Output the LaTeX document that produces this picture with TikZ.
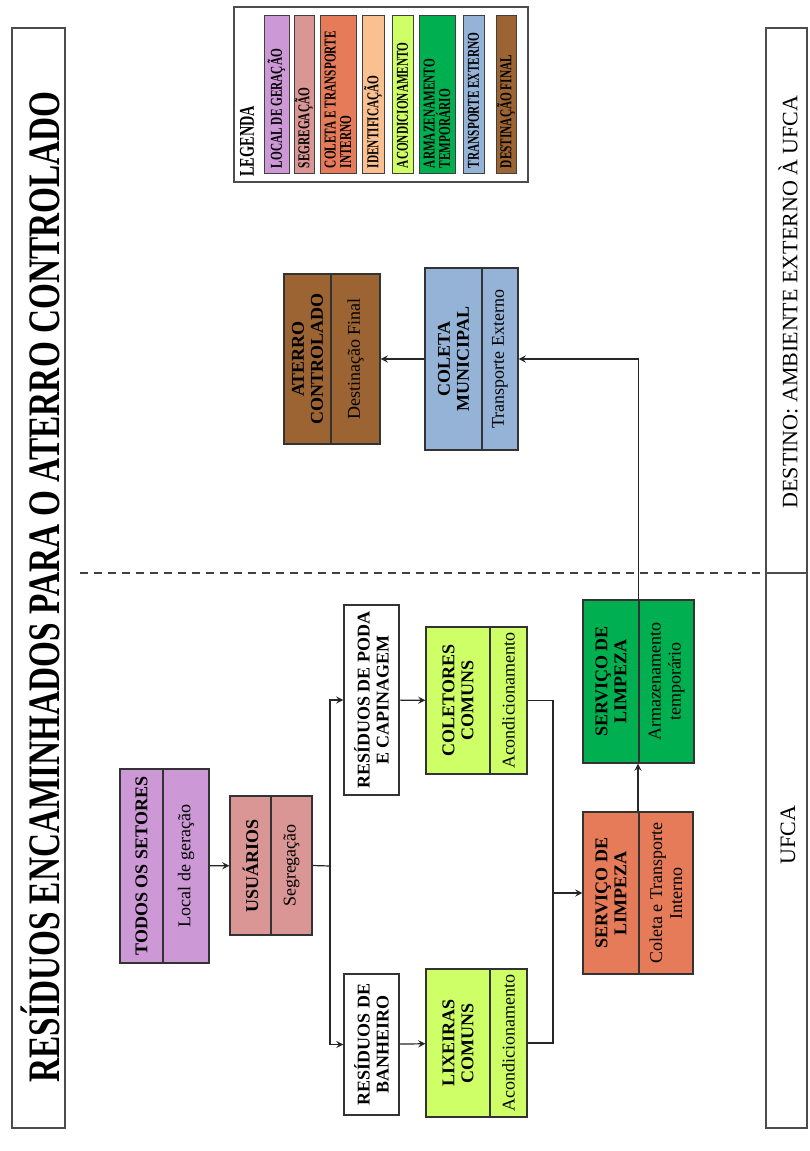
\documentclass[tikz,border=0pt]{standalone}
\usepackage{fontspec}
\setmainfont{Liberation Serif}
\newfontfamily\condfont[FakeStretch=0.68]{Liberation Serif}
\newfontfamily\headfont[FakeStretch=0.74]{Liberation Serif}
\usetikzlibrary{calc,fit}

\definecolor{lilac}{RGB}{204,153,214}
\definecolor{rose}{RGB}{217,150,148}
\definecolor{coral}{RGB}{229,123,89}
\definecolor{peach}{RGB}{250,192,144}
\definecolor{lime}{RGB}{206,255,102}
\definecolor{leaf}{RGB}{0,176,80}
\definecolor{skyblue}{RGB}{149,179,215}
\definecolor{earth}{RGB}{155,100,50}

\begin{document}
\begin{tikzpicture}[x=0.5pt, y=-0.5pt, >=stealth,
    every node/.style={inner sep=0pt},
    stage/.style={draw=black!80, line width=0.6pt, inner sep=0pt},
    divider/.style={draw=black!80, line width=0.6pt},
    boxtitle/.style={rotate=90, align=center, font=\bfseries\fontsize{9}{9.5}\selectfont},
    boxtask/.style={rotate=90, align=center, font=\fontsize{9}{10}\selectfont},
    legbar/.style={draw=black!75, line width=0.5pt, inner sep=0pt},
    legtext/.style={rotate=90, anchor=west, align=left, font=\condfont\bfseries\fontsize{8.3}{7.8}\selectfont},
    framebox/.style={draw=black!70, line width=0.8pt, inner sep=0pt},
    flow/.style={draw=black!85, line width=0.6pt}]

\useasboundingbox (0,0) rectangle (809,1151);

% outer frames
\node[framebox, fit={(12,28) (65,1128)}] (headframe) {};
\node[rotate=90, font=\headfont\bfseries\fontsize{22.5}{24}\selectfont] (head) at (40,587) {RESÍDUOS ENCAMINHADOS PARA O ATERRO CONTROLADO};
\node[framebox, fit={(766,28) (807,1128)}] (footframe) {};
\draw[framebox] (766,573) -- (807,573);
\node[rotate=90, font=\fontsize{11}{12}\selectfont] (outside) at (788,302) {DESTINO: AMBIENTE EXTERNO À UFCA};
\node[rotate=90, font=\fontsize{11}{12}\selectfont] (inside) at (788,835) {UFCA};
\coordinate (cut) at (80,573);
\draw[draw=black!75, line width=0.7pt, dash pattern=on 4pt off 3pt] (cut) -- (cut -| footframe.west);

% legend
\node[framebox, line width=0.6pt, fit={(234,7) (528,182)}] (legend) {};
\node[legtext, font=\condfont\bfseries\fontsize{10.5}{11}\selectfont] (legtitle) at (247,177) {LEGENDA};
\foreach \xa/\xb/\col/\txt [count=\i] in {
    264/289/lilac/{LOCAL DE GERAÇÃO},
    294/314/rose/{SEGREGAÇÃO},
    320/356/coral/{COLETA E TRANSPORTE\\INTERNO},
    362/384/peach/{IDENTIFICAÇÃO},
    392/413/lime/{ACONDICIONAMENTO},
    419/455/leaf/{ARMAZENAMENTO\\TEMPORÁRIO},
    463/484/skyblue/{TRANSPORTE EXTERNO},
    496/516/earth/{DESTINAÇÃO FINAL}}{
  \node[legbar, fill=\col, fit={(\xa,15) (\xb,173)}] (leg\i) {};
  \node[legtext] (legtxt\i) at ($(leg\i.south)+(0,-5)$) {\txt};
}

% stages inside UFCA
\node[stage, fill=lilac, fit={(120,769) (209,963)}] (todos) {};
\draw[divider] (163,769) -- (163,963);
\node[boxtitle] (todosT) at (141.5,866) {TODOS OS SETORES};
\node[boxtask] (todosF) at (186,866) {Local de geração};

\node[stage, fill=rose, fit={(230,796) (312,935)}] (usuarios) {};
\draw[divider] (271,796) -- (271,935);
\node[boxtitle] (usuariosT) at (250.5,865.5) {USUÁRIOS};
\node[boxtask] (usuariosF) at (291.5,865.5) {Segregação};

\node[stage, fill=white, fit={(344,605) (399,795)}] (poda) {};
\node[boxtitle] (podaT) at (371.5,700) {RESÍDUOS DE PODA\\E CAPINAGEM};

\node[stage, fill=white, fit={(344,974) (399,1115)}] (banheiro) {};
\node[boxtitle] (banheiroT) at (371.5,1044.5) {RESÍDUOS DE\\BANHEIRO};

\node[stage, fill=lime, fit={(426,627) (527,774)}] (coletores) {};
\draw[divider] (490,627) -- (490,774);
\node[boxtitle] (coletoresT) at (458,700.5) {COLETORES\\COMUNS};
\node[boxtask] (coletoresF) at (508.5,700.5) {Acondicionamento};

\node[stage, fill=lime, fit={(426,969) (527,1117)}] (lixeiras) {};
\draw[divider] (490,969) -- (490,1117);
\node[boxtitle] (lixeirasT) at (458,1043) {LIXEIRAS\\COMUNS};
\node[boxtask] (lixeirasF) at (508.5,1043) {Acondicionamento};

\node[stage, fill=coral, fit={(583,812) (693,974)}] (coleta) {};
\draw[divider] (639,812) -- (639,974);
\node[boxtitle] (coletaT) at (611,893) {SERVIÇO DE\\LIMPEZA};
\node[boxtask] (coletaF) at (666,893) {Coleta e Transporte\\Interno};

\node[stage, fill=leaf, fit={(583,600) (694,763)}] (armaz) {};
\draw[divider] (639,600) -- (639,763);
\node[boxtitle] (armazT) at (611,681.5) {SERVIÇO DE\\LIMPEZA};
\node[boxtask] (armazF) at (666.5,681.5) {Armazenamento\\temporário};

% stages outside UFCA
\node[stage, fill=skyblue, fit={(425,268) (518,450)}] (municipal) {};
\draw[divider] (482,268) -- (482,450);
\node[boxtitle] (municipalT) at (453.5,359) {COLETA\\MUNICIPAL};
\node[boxtask] (municipalF) at (500,359) {Transporte Externo};

\node[stage, fill=earth, fit={(284,274) (380,444)}] (aterro) {};
\draw[divider] (331,274) -- (331,444);
\node[boxtitle] (aterroT) at (307.5,359) {ATERRO\\CONTROLADO};
\node[boxtask] (aterroF) at (355.5,359) {Destinação Final};

% connectors
\coordinate (split) at (330,866);
\coordinate (merge) at (553,893);
\draw[flow,->] (todos) -- (usuarios);
\draw[flow] (usuarios.east) -- (split);
\draw[flow,->] (split) |- (poda.west);
\draw[flow,->] (split) |- (banheiro.west);
\draw[flow,->] (poda) -- (coletores);
\draw[flow,->] (banheiro) -- (lixeiras);
\draw[flow] (coletores.east) -| (merge);
\draw[flow] (lixeiras.east) -| (merge);
\draw[flow,->] (merge) -- (coleta.west);
\draw[flow,->] (coleta.north) -- (coleta.north |- armaz.south);
\draw[flow,->] (armaz.north) |- (municipal.east);
\draw[flow,->] (municipal) -- (aterro);
\end{tikzpicture}
\end{document}
